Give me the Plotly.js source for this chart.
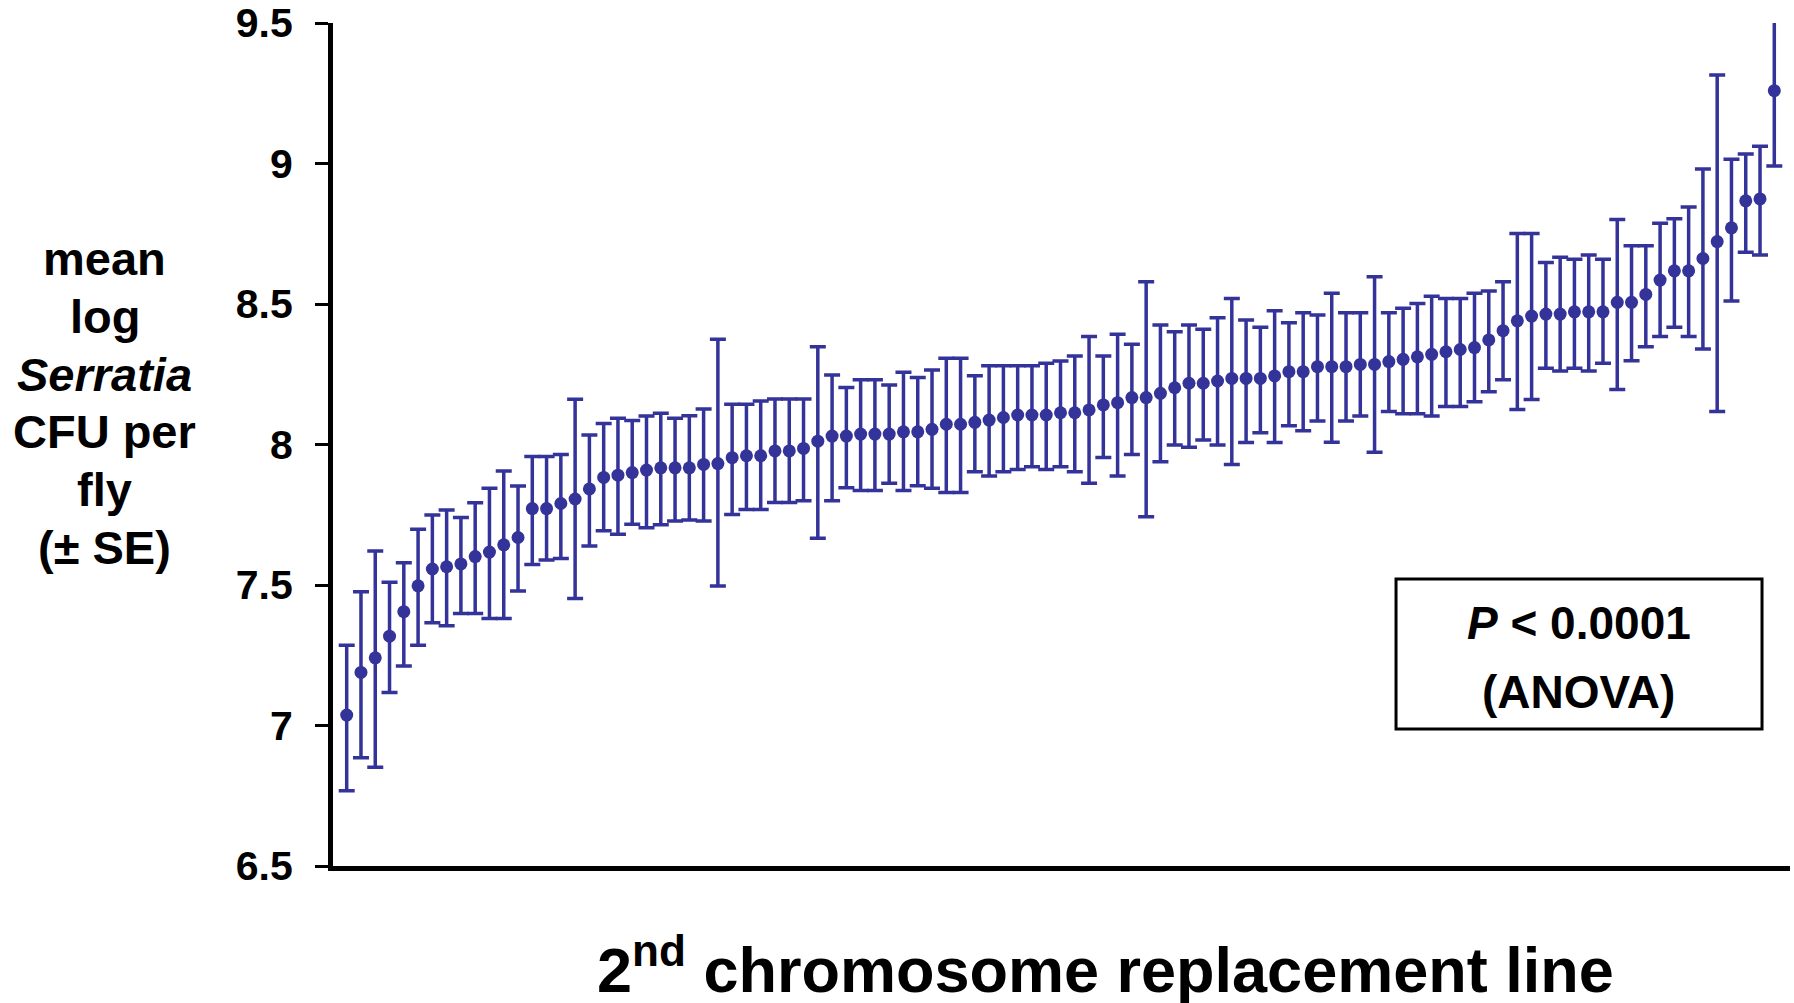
<!DOCTYPE html>
<html>
<head>
<meta charset="utf-8">
<script src="https://cdn.plot.ly/plotly-3.0.1.min.js"></script>
<style>
  html, body { margin: 0; padding: 0; background: #ffffff; }
  #chart { width: 1794px; height: 1003px; }
</style>
</head>
<body>
<div id="chart"></div>
<script>
// Mean log Serratia CFU per fly for each 2nd chromosome replacement line (sorted)
const meanLogCFU = [
  7.037, 7.189, 7.241, 7.318, 7.405, 7.497, 7.557, 7.565, 7.575, 7.601,
  7.617, 7.643, 7.669, 7.772, 7.772, 7.790, 7.806, 7.842, 7.883, 7.891,
  7.900, 7.909, 7.917, 7.917, 7.917, 7.929, 7.932, 7.953, 7.960, 7.960,
  7.977, 7.977, 7.986, 8.012, 8.030, 8.030, 8.037, 8.037, 8.037, 8.045,
  8.045, 8.054, 8.072, 8.072, 8.079, 8.087, 8.096, 8.105, 8.105, 8.105,
  8.113, 8.113, 8.123, 8.141, 8.149, 8.167, 8.167, 8.182, 8.202, 8.218,
  8.218, 8.226, 8.235, 8.235, 8.235, 8.244, 8.259, 8.259, 8.277, 8.277,
  8.277, 8.285, 8.285, 8.295, 8.303, 8.312, 8.321, 8.330, 8.338, 8.345,
  8.372, 8.405, 8.440, 8.457, 8.464, 8.464, 8.472, 8.472, 8.472, 8.506,
  8.506, 8.534, 8.585, 8.618, 8.618, 8.662, 8.722, 8.771, 8.867, 8.874,
  9.259
];
// Upper end of each error bar (mean + SE)
const upperSE = [
  7.286, 7.476, 7.621, 7.510, 7.579, 7.698, 7.749, 7.767, 7.740, 7.793,
  7.844, 7.906, 7.852, 7.957, 7.957, 7.964, 8.161, 8.034, 8.075, 8.093,
  8.085, 8.101, 8.111, 8.093, 8.102, 8.126, 8.375, 8.143, 8.143, 8.155,
  8.162, 8.162, 8.162, 8.348, 8.247, 8.203, 8.230, 8.230, 8.212, 8.257,
  8.238, 8.265, 8.307, 8.307, 8.245, 8.280, 8.280, 8.280, 8.280, 8.289,
  8.297, 8.315, 8.384, 8.315, 8.392, 8.357, 8.579, 8.425, 8.401, 8.425,
  8.410, 8.451, 8.520, 8.443, 8.417, 8.476, 8.433, 8.469, 8.461, 8.538,
  8.469, 8.469, 8.597, 8.469, 8.485, 8.502, 8.528, 8.520, 8.520, 8.538,
  8.546, 8.579, 8.751, 8.751, 8.648, 8.666, 8.659, 8.674, 8.659, 8.801,
  8.707, 8.707, 8.787, 8.803, 8.845, 8.980, 9.315, 9.015, 9.034, 9.061,
  9.513
];
// Lower end of each error bar (mean - SE)
const lowerSE = [
  6.768, 6.885, 6.851, 7.117, 7.212, 7.286, 7.366, 7.355, 7.399, 7.399,
  7.381, 7.381, 7.479, 7.573, 7.589, 7.594, 7.452, 7.639, 7.693, 7.681,
  7.716, 7.704, 7.714, 7.728, 7.731, 7.728, 7.496, 7.751, 7.769, 7.769,
  7.794, 7.794, 7.800, 7.666, 7.800, 7.846, 7.836, 7.836, 7.862, 7.836,
  7.853, 7.844, 7.829, 7.829, 7.903, 7.888, 7.903, 7.911, 7.921, 7.911,
  7.921, 7.903, 7.862, 7.954, 7.888, 7.964, 7.743, 7.939, 7.998, 7.990,
  8.016, 7.998, 7.929, 8.007, 8.042, 8.007, 8.067, 8.049, 8.084, 8.008,
  8.084, 8.101, 7.972, 8.117, 8.109, 8.109, 8.101, 8.135, 8.135, 8.152,
  8.188, 8.230, 8.125, 8.160, 8.271, 8.262, 8.271, 8.262, 8.289, 8.196,
  8.298, 8.348, 8.384, 8.417, 8.384, 8.340, 8.117, 8.511, 8.684, 8.674,
  8.991
];
const yTickVals = [6.5, 7, 7.5, 8, 8.5, 9, 9.5];
const yTickText = ['6.5', '7', '7.5', '8', '8.5', '9', '9.5'];
const yTitleLines = ['mean', 'log', '<i>Serratia</i>', 'CFU per', 'fly', '(± SE)'];

const lineIndex = meanLogCFU.map((_, i) => i + 1);
const errPlus = meanLogCFU.map((m, i) => upperSE[i] - m);
const errMinus = meanLogCFU.map((m, i) => m - lowerSE[i]);

const navy = '#333399';
const FONT = '"Liberation Sans", Arial, Helvetica, sans-serif';

const trace = {
  type: 'scatter',
  mode: 'markers',
  x: lineIndex,
  y: meanLogCFU,
  cliponaxis: false,
  marker: { color: navy, size: 13 },
  error_y: {
    type: 'data',
    symmetric: false,
    array: errPlus,
    arrayminus: errMinus,
    color: navy,
    thickness: 3.5,
    width: 8
  },
  hoverinfo: 'y'
};

// y-title line layout (paper coordinates): first line centre and spacing
const yTitleTop = 0.7205;
const yTitleStep = 0.0685;
const yTitleAnnotations = yTitleLines.map((t, i) => ({
  xref: 'paper', yref: 'paper',
  x: -0.1565, y: yTitleTop - i * yTitleStep,
  xanchor: 'center', yanchor: 'middle',
  align: 'center',
  showarrow: false,
  text: t,
  font: { family: FONT, size: 47, color: '#000000', weight: 'bold' }
}));

const layout = {
  width: 1794,
  height: 1003,
  margin: { l: 333, r: 4, t: 23, b: 137 },
  paper_bgcolor: '#ffffff',
  plot_bgcolor: '#ffffff',
  showlegend: false,
  font: { family: FONT, color: '#000000' },
  xaxis: {
    range: [0.04, 102.1],
    showline: true,
    linecolor: '#000000',
    linewidth: 5,
    showgrid: false,
    zeroline: false,
    showticklabels: false,
    ticks: ''
  },
  yaxis: {
    range: [6.5, 9.5],
    tickvals: yTickVals,
    ticktext: yTickText,
    showline: true,
    linecolor: '#000000',
    linewidth: 5,
    showgrid: false,
    zeroline: false,
    ticks: 'outside',
    ticklen: 13,
    tickwidth: 3,
    tickcolor: '#000000',
    ticklabelstandoff: 14,
    tickfont: { family: FONT, size: 41, color: '#000000', weight: 'bold' }
  },
  annotations: yTitleAnnotations.concat([
    {
      xref: 'paper', yref: 'paper',
      x: 0.53, y: -0.118,
      xanchor: 'center', yanchor: 'middle',
      showarrow: false,
      text: '2<sup>nd</sup> chromosome replacement line',
      font: { family: FONT, size: 63, color: '#000000', weight: 'bold' }
    },
    {
      xref: 'paper', yref: 'paper',
      x: 0.855, y: 0.288,
      xanchor: 'center', yanchor: 'middle',
      showarrow: false,
      text: '<i>P</i> < 0.0001',
      font: { family: FONT, size: 46, color: '#000000', weight: 'bold' }
    },
    {
      xref: 'paper', yref: 'paper',
      x: 0.855, y: 0.206,
      xanchor: 'center', yanchor: 'middle',
      showarrow: false,
      text: '(ANOVA)',
      font: { family: FONT, size: 46, color: '#000000', weight: 'bold' }
    }
  ]),
  shapes: [
    {
      type: 'rect',
      xref: 'paper', yref: 'paper',
      x0: 0.7296, x1: 0.9808, y0: 0.1625, y1: 0.3405,
      line: { color: '#000000', width: 3 },
      fillcolor: 'rgba(0,0,0,0)'
    }
  ]
};

Plotly.newPlot('chart', [trace], layout, { displayModeBar: false, staticPlot: true });
</script>
</body>
</html>
